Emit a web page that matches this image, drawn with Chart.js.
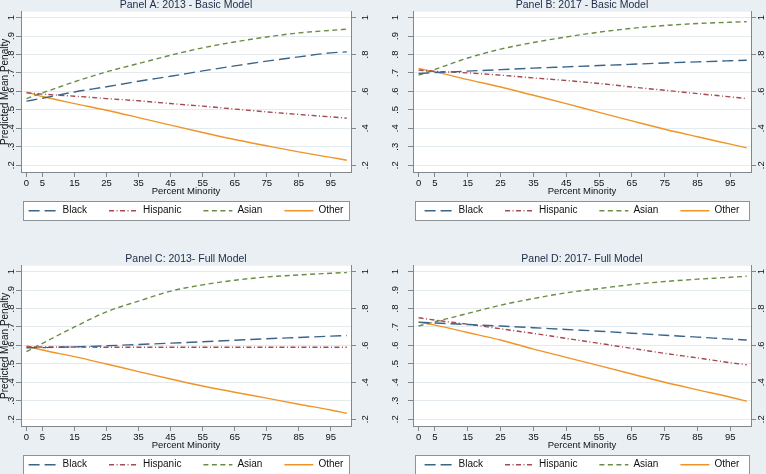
<!DOCTYPE html>
<html>
<head>
<meta charset="utf-8">
<script src="https://cdn.jsdelivr.net/npm/chart.js@4.4.1/dist/chart.umd.min.js"></script>
<style>
  html, body { margin:0; padding:0; width:766px; height:474px; overflow:hidden; background:#e9eff2; }
  canvas { position:absolute; }
</style>
</head>
<body>
<canvas id="pA" width="383" height="262" style="left:0;top:-14px"></canvas>
<canvas id="pB" width="400" height="262" style="left:383px;top:-14px"></canvas>
<canvas id="pC" width="383" height="262" style="left:0;top:240px"></canvas>
<canvas id="pD" width="400" height="262" style="left:383px;top:240px"></canvas>
<script>
// percent minority values the curves are read at
var pct = [0, 5, 15, 25, 35, 45, 55, 65, 75, 85, 95, 100];
var xTicks = [0, 5, 15, 25, 35, 45, 55, 65, 75, 85, 95];
var leftTicks = [0.2, 0.3, 0.4, 0.5, 0.6, 0.7, 0.8, 0.9, 1];
var rightTicks = [0.2, 0.4, 0.6, 0.8, 1];
var groups = ['Black', 'Hispanic', 'Asian', 'Other'];

// Panel A: 2013 - Basic Model
var blackA = [0.547, 0.563, 0.597, 0.625, 0.655, 0.682, 0.711, 0.738, 0.764, 0.787, 0.809, 0.814];
var hispA  = [0.592, 0.585, 0.574, 0.561, 0.549, 0.534, 0.520, 0.504, 0.489, 0.475, 0.462, 0.455];
var asianA = [0.561, 0.592, 0.652, 0.706, 0.751, 0.796, 0.836, 0.868, 0.895, 0.917, 0.931, 0.937];
var otherA = [0.596, 0.572, 0.534, 0.498, 0.458, 0.417, 0.377, 0.339, 0.305, 0.272, 0.242, 0.227];

// Panel B: 2017 - Basic Model
var blackB = [0.697, 0.702, 0.710, 0.718, 0.726, 0.733, 0.740, 0.747, 0.754, 0.760, 0.766, 0.769];
var hispB  = [0.715, 0.709, 0.700, 0.688, 0.673, 0.659, 0.643, 0.624, 0.606, 0.588, 0.570, 0.561];
var asianB = [0.688, 0.719, 0.781, 0.829, 0.865, 0.895, 0.921, 0.942, 0.957, 0.968, 0.975, 0.978];
var otherB = [0.724, 0.706, 0.664, 0.624, 0.579, 0.534, 0.486, 0.440, 0.395, 0.354, 0.314, 0.294];

// Panel C: 2013- Full Model
var blackC = [0.587, 0.588, 0.592, 0.598, 0.605, 0.612, 0.620, 0.628, 0.636, 0.643, 0.650, 0.654];
var hispC  = [0.592, 0.591, 0.591, 0.590, 0.590, 0.590, 0.590, 0.590, 0.590, 0.590, 0.590, 0.590];
var asianC = [0.566, 0.611, 0.700, 0.782, 0.840, 0.894, 0.928, 0.953, 0.971, 0.982, 0.991, 0.995];
var otherC = [0.598, 0.575, 0.539, 0.499, 0.458, 0.418, 0.380, 0.346, 0.314, 0.281, 0.250, 0.232];

// Panel D: 2017- Full Model
var blackD = [0.726, 0.721, 0.713, 0.705, 0.696, 0.686, 0.677, 0.666, 0.655, 0.645, 0.634, 0.629];
var hispD  = [0.750, 0.737, 0.715, 0.690, 0.665, 0.638, 0.611, 0.584, 0.557, 0.532, 0.506, 0.495];
var asianD = [0.705, 0.728, 0.773, 0.818, 0.854, 0.885, 0.908, 0.930, 0.946, 0.959, 0.969, 0.975];
var otherD = [0.726, 0.710, 0.670, 0.629, 0.580, 0.535, 0.490, 0.445, 0.400, 0.359, 0.319, 0.297];

var colors = ['#3b6489', '#a34a52', '#6a8c45', '#ef9528'];
var dashes = [[11, 5], [5, 2.5, 1, 2.5], [5, 3.5], []];
var fam = '"Liberation Sans", Arial, sans-serif';
var axisGray = '#80878d';
var ink = '#111';
var legendPad = 22;

function fmt(v) {
  return v === 1 ? '1' : v.toFixed(1).replace(/^0/, '');
}

// white plot region, boxed legend
var frame = {
  id: 'frame',
  afterLayout: function(chart) {
    var lg = chart.legend;
    var top = chart.chartArea.bottom + 38.7 - lg.options.labels.padding - 5;
    var d = lg.top - top;
    lg.top -= d;
    lg.bottom -= d;
  },
  beforeDraw: function(chart) {
    var ctx = chart.ctx, a = chart.chartArea;
    ctx.save();
    ctx.fillStyle = '#fff';
    ctx.fillRect(a.left, a.top, a.right - a.left, a.bottom - a.top);
    var cy = a.bottom + 38.7;
    var bx = Math.round(a.left + 2) + 0.5, by = Math.round(cy - 9.5) + 0.5;
    var bw = Math.round(a.right - a.left - 4), bh = 19;
    ctx.fillRect(bx, by, bw, bh);
    ctx.strokeStyle = '#8d9397';
    ctx.lineWidth = 1;
    ctx.strokeRect(bx, by, bw, bh);
    ctx.restore();
  }
};

// legend samples drawn as the dataset's own dashed line
function lineLabels(chart) {
  return chart.data.datasets.map(function(ds, i) {
    return {
      text: ds.label,
      fillStyle: ds.borderColor,
      strokeStyle: ds.borderColor,
      fontColor: ink,
      lineWidth: 1.4,
      lineDash: ds.borderDash,
      lineCap: 'butt',
      pointStyle: 'line',
      hidden: false,
      datasetIndex: i
    };
  });
}

function panel(id, title, vals, o) {
  return new Chart(document.getElementById(id), {
    type: 'line',
    data: {
      datasets: groups.map(function(g, i) {
        return {
          label: g,
          data: pct.map(function(x, j) { return {x: x, y: vals[i][j]}; }),
          borderColor: colors[i],
          backgroundColor: colors[i],
          borderDash: dashes[i],
          borderWidth: 1.4,
          pointRadius: 0,
          fill: false,
          cubicInterpolationMode: 'monotone'
        };
      })
    },
    options: {
      responsive: false,
      animation: false,
      events: [],
      layout: {padding: {left: 0, right: o.padRight, top: 0, bottom: 30 - legendPad}},
      plugins: {
        title: {
          display: true,
          text: title,
          color: '#1b2a47',
          font: {family: fam, size: 10.5, weight: 'normal'},
          padding: {top: 12.4, bottom: 0.7}
        },
        legend: {
          position: 'bottom',
          labels: {
            usePointStyle: true,
            pointStyle: 'line',
            pointStyleWidth: 29,
            padding: legendPad,
            color: ink,
            font: {family: fam, size: 10},
            generateLabels: lineLabels
          }
        },
        tooltip: {enabled: false}
      },
      scales: {
        x: {
          type: 'linear',
          min: -1.7,
          max: 101.3,
          afterBuildTicks: function(s) { s.ticks = xTicks.map(function(v) { return {value: v}; }); },
          afterFit: function(s) { s.height = 26; },
          grid: {drawOnChartArea: false, drawTicks: true, tickLength: 5, tickColor: axisGray},
          border: {display: true, color: axisGray},
          ticks: {padding: 1, autoSkip: false, maxRotation: 0, color: ink, font: {family: fam, size: 9.5}},
          title: {display: true, text: 'Percent Minority', color: ink,
                  font: {family: fam, size: 9.5}, padding: {top: 0, bottom: 1}}
        },
        y: {
          position: 'left',
          min: 0.163,
          max: 1.032,
          afterBuildTicks: function(s) { s.ticks = leftTicks.map(function(v) { return {value: v}; }); },
          afterFit: function(s) { s.width = o.leftW; },
          grid: {color: '#e4ebef', drawTicks: true, tickLength: 5, tickColor: axisGray},
          border: {display: true, color: axisGray},
          ticks: {padding: o.leftPad, minRotation: 90, maxRotation: 90, crossAlign: 'center',
                  color: ink, font: {family: fam, size: 9.5}, callback: fmt},
          title: {display: o.yTitle, text: 'Predicted Mean Penalty', color: ink,
                  font: {family: fam, size: 10}, padding: {top: -1, bottom: 0}}
        },
        y2: {
          position: 'right',
          min: 0.163,
          max: 1.032,
          afterBuildTicks: function(s) { s.ticks = rightTicks.map(function(v) { return {value: v}; }); },
          afterFit: function(s) { s.width = o.rightW; },
          grid: {drawOnChartArea: false, drawTicks: true, tickLength: 5, tickColor: axisGray},
          border: {display: true, color: axisGray},
          ticks: {padding: o.rightPad, minRotation: 90, maxRotation: 90, crossAlign: 'center',
                  color: ink, font: {family: fam, size: 9.5}, callback: fmt}
        }
      }
    },
    plugins: [frame]
  });
}

var leftSide = {padRight: 11, leftW: 21, rightW: 21, leftPad: 1, rightPad: 5, yTitle: true};
var rightSide = {padRight: 2, leftW: 30, rightW: 30, leftPad: 9, rightPad: 1, yTitle: false};

panel('pA', 'Panel A: 2013 - Basic Model', [blackA, hispA, asianA, otherA], leftSide);
panel('pB', 'Panel B: 2017 - Basic Model', [blackB, hispB, asianB, otherB], rightSide);
panel('pC', 'Panel C: 2013- Full Model', [blackC, hispC, asianC, otherC], leftSide);
panel('pD', 'Panel D: 2017- Full Model', [blackD, hispD, asianD, otherD], rightSide);
</script>
</body>
</html>
